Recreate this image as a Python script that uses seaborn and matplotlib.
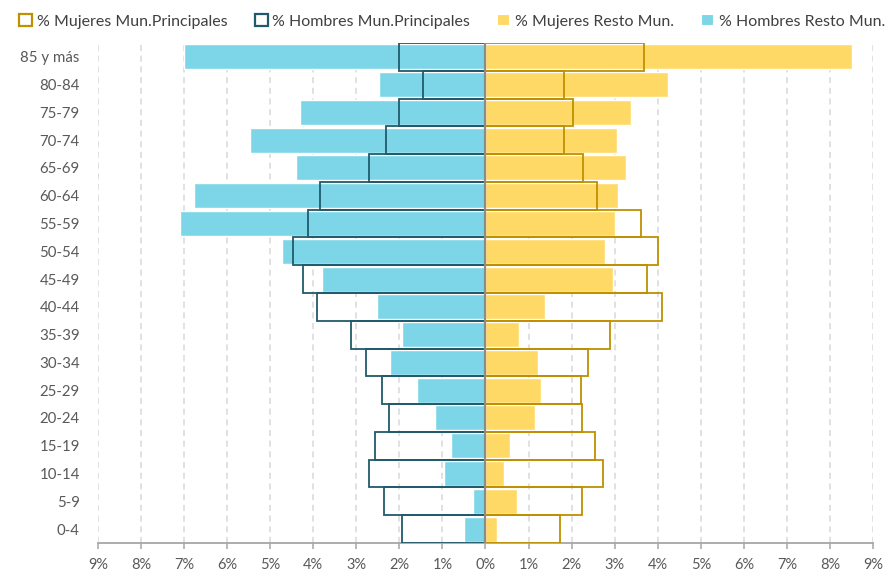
import numpy as np
import pandas as pd
import seaborn as sns
import matplotlib.pyplot as plt
from matplotlib.patches import Patch
from matplotlib.ticker import FuncFormatter, MultipleLocator

# grupos de edad, de arriba abajo
edades = ['85 y más', '80-84', '75-79', '70-74', '65-69', '60-64', '55-59', '50-54', '45-49',
          '40-44', '35-39', '30-34', '25-29', '20-24', '15-19', '10-14', '5-9', '0-4']

hombres_resto = [7.00, 2.47, 4.30, 5.46, 4.39, 6.78, 7.09, 4.73, 3.79,
                 2.51, 1.95, 2.21, 1.60, 1.18, 0.79, 0.96, 0.28, 0.49]
hombres_princ = [2.02, 1.46, 2.02, 2.31, 2.70, 3.85, 4.12, 4.46, 4.24,
                 3.91, 3.13, 2.78, 2.40, 2.23, 2.57, 2.70, 2.36, 1.93]
mujeres_resto = [8.51, 4.24, 3.38, 3.05, 3.26, 3.08, 3.00, 2.78, 2.96,
                 1.38, 0.78, 1.21, 1.29, 1.15, 0.56, 0.43, 0.74, 0.26]
mujeres_princ = [3.67, 1.83, 2.04, 1.83, 2.26, 2.60, 3.62, 4.01, 3.74,
                 4.09, 2.89, 2.38, 2.21, 2.25, 2.55, 2.72, 2.25, 1.74]

x_ticks = np.arange(-9, 10, 1)

c_cyan = '#7DD6E8'
c_yellow = '#FFD966'
c_gold = '#BF9000'
c_teal = '#215A6B'
c_text = '#595959'

sns.set_theme(style='white')
plt.rcParams['font.family'] = ['Lato', 'DejaVu Sans']

df = pd.DataFrame({
    'edad': edades,
    'h_resto': -np.array(hombres_resto),
    'h_princ': -np.array(hombres_princ),
    'm_resto': np.array(mujeres_resto),
    'm_princ': np.array(mujeres_princ),
})

fig = plt.figure(figsize=(8.9, 5.73), dpi=100)
ax = fig.add_axes([0.110, 0.0524, 0.871, 0.8726])

# barras rellenas (resto de municipios)
sns.barplot(data=df, x='h_resto', y='edad', order=edades, orient='h', color=c_cyan,
            saturation=1, width=0.9, ax=ax, zorder=2)
sns.barplot(data=df, x='m_resto', y='edad', order=edades, orient='h', color=c_yellow,
            saturation=1, width=0.9, ax=ax, zorder=2)
# barras de contorno (municipios principales)
sns.barplot(data=df, x='h_princ', y='edad', order=edades, orient='h', color=c_teal,
            fill=False, linewidth=1.3, width=1.0, ax=ax, zorder=3)
sns.barplot(data=df, x='m_princ', y='edad', order=edades, orient='h', color=c_gold,
            fill=False, linewidth=1.3, width=1.0, ax=ax, zorder=3)

ax.axvline(0, color='#8C8C8C', lw=1.6, zorder=5)

ax.set_xlim(-9, 9)
ax.set_ylim(len(edades) - 0.5, -0.5)
ax.set_xticks(x_ticks)
ax.xaxis.set_major_formatter(FuncFormatter(lambda v, p: f'{abs(v):.0f}%'))
ax.set_xlabel('')
ax.set_ylabel('')

ax.xaxis.grid(True, linestyle=(0, (4, 3)), color='#D9D9D9', linewidth=1.1)
ax.yaxis.grid(False)
ax.set_axisbelow(True)

for s in ['left', 'right', 'top']:
    ax.spines[s].set_visible(False)
ax.spines['bottom'].set_color('#A6A6A6')
ax.spines['bottom'].set_linewidth(1.3)

ax.tick_params(axis='x', which='major', bottom=True, length=4, width=1.1, color='#A6A6A6',
               labelsize=10.5, labelcolor=c_text, pad=7)
ax.tick_params(axis='y', length=0, labelsize=10.8, labelcolor=c_text, pad=13)

handles = [
    Patch(facecolor='white', edgecolor=c_gold, linewidth=1.6, label='% Mujeres Mun.Principales'),
    Patch(facecolor='white', edgecolor=c_teal, linewidth=1.6, label='% Hombres Mun.Principales'),
    Patch(facecolor=c_yellow, edgecolor='white', linewidth=1.5, label='% Mujeres Resto Mun.'),
    Patch(facecolor=c_cyan, edgecolor='white', linewidth=1.5, label='% Hombres Resto Mun.'),
]
leg = fig.legend(handles=handles, loc='center', bbox_to_anchor=(0.508, 0.963), ncol=4,
                 frameon=False, fontsize=11.5, handlelength=0.8, handleheight=0.8,
                 handletextpad=0.3, columnspacing=1.7)
for t in leg.get_texts():
    t.set_color('#404040')

fig.savefig('out.png', dpi=100)
